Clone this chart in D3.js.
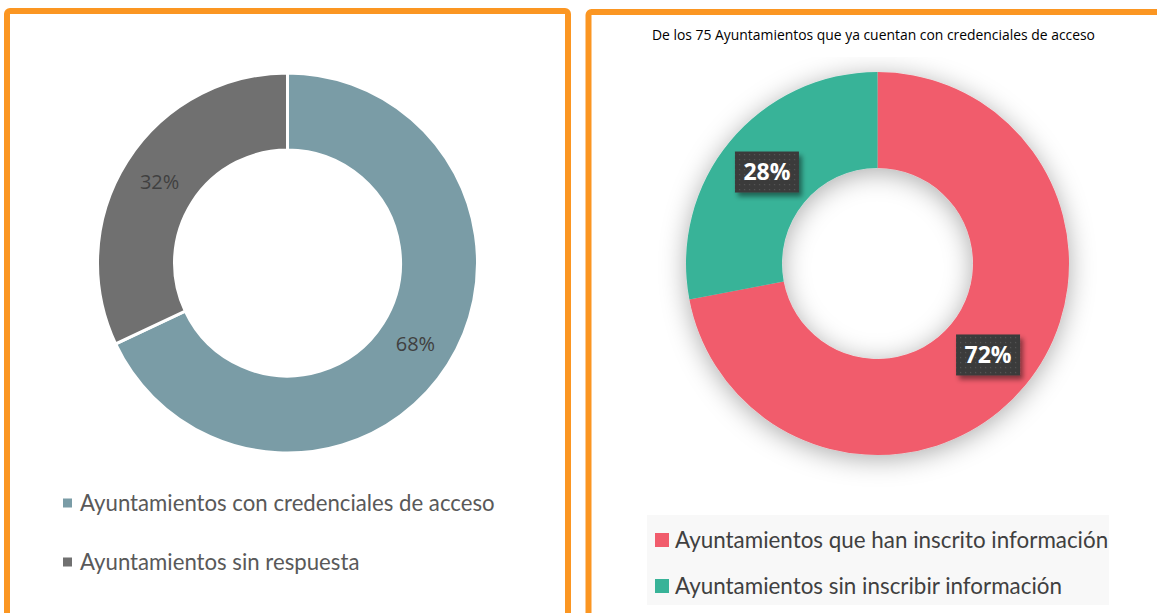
<!DOCTYPE html>
<html>
<head>
<meta charset="utf-8">
<script src="https://cdn.jsdelivr.net/npm/d3@7"></script>
<style>
  body { margin: 0; background: #fff; }
  svg { display: block; }
</style>
</head>
<body>
<div id="chart"></div>
<script>
        var width = 1157;
        var height = 613;

        // left chart data
        var leftLabels = ["Ayuntamientos con credenciales de acceso", "Ayuntamientos sin respuesta"];
        var leftValues = [68, 32];
        var leftColors = ["#7A9CA6", "#707070"];

        // right chart data
        var rightTitle = "De los 75 Ayuntamientos que ya cuentan con credenciales de acceso";
        var rightLabels = ["Ayuntamientos que han inscrito información", "Ayuntamientos sin inscribir información"];
        var rightValues = [72, 28];
        var rightColors = ["#F15C6C", "#38B398"];

        var svg = d3.select("#chart")
                    .append("svg")
                    .attr("width", width)
                    .attr("height", height);

        var defs = svg.append("defs");

        // soft shadow behind the right donut (region in the donut group's own coords)
        var shadow = defs.append("filter")
            .attr("id", "ringShadow")
            .attr("filterUnits", "userSpaceOnUse")
            .attr("x", -250).attr("y", -206.5)
            .attr("width", 500).attr("height", 460);
        shadow.append("feDropShadow")
            .attr("dx", 0).attr("dy", 4)
            .attr("stdDeviation", 13)
            .attr("flood-color", "#000")
            .attr("flood-opacity", 0.33);

        var boxShadow = defs.append("filter")
            .attr("id", "boxShadow")
            .attr("x", "-30%").attr("y", "-30%")
            .attr("width", "170%").attr("height", "180%");
        boxShadow.append("feDropShadow")
            .attr("dx", 3).attr("dy", 4)
            .attr("stdDeviation", 2.5)
            .attr("flood-color", "#000")
            .attr("flood-opacity", 0.45);

        // dotted texture for the label boxes
        var dots = defs.append("pattern")
            .attr("id", "dots")
            .attr("patternUnits", "userSpaceOnUse")
            .attr("width", 5).attr("height", 5);
        dots.append("rect").attr("width", 5).attr("height", 5).attr("fill", "#3b3b3b");
        dots.append("rect").attr("x", 2).attr("y", 2).attr("width", 1.2).attr("height", 1.2).attr("fill", "#555");

        // orange panel frames
        svg.append("rect")
            .attr("x", 7).attr("y", 11)
            .attr("width", 561).attr("height", 640)
            .attr("rx", 3)
            .attr("fill", "#fff")
            .attr("stroke", "#FB9622")
            .attr("stroke-width", 6);

        svg.append("rect")
            .attr("x", 588.5).attr("y", 12)
            .attr("width", 600).attr("height", 640)
            .attr("rx", 3)
            .attr("fill", "#fff")
            .attr("stroke", "#FB9622")
            .attr("stroke-width", 6);

        var pie = d3.pie().sort(null).value(function(d){ return d; });

        // ---------- left donut ----------
        var leftArc = d3.arc().innerRadius(113).outerRadius(190);

        var left_g = svg.append("g").attr("transform", "translate(287.5,263)");

        left_g.selectAll("path")
            .data(pie(leftValues))
            .enter()
            .append("path")
            .attr("d", leftArc)
            .attr("fill", function(d, i){ return leftColors[i]; })
            .attr("stroke", "#fff")
            .attr("stroke-width", 3);

        left_g.selectAll("text")
            .data(pie(leftValues))
            .enter()
            .append("text")
            .attr("transform", function(d){ return "translate(" + leftArc.centroid(d) + ")"; })
            .attr("text-anchor", "middle")
            .attr("dy", "0.36em")
            .style("font-family", "'Open Sans', sans-serif")
            .style("font-size", "20px")
            .style("fill", "#404040")
            .text(function(d){ return d.data + "%"; });

        var leftLegend = svg.append("g").attr("transform", "translate(63,0)");
        var leftRows = [503, 562];
        leftLabels.forEach(function(lab, i){
            leftLegend.append("rect")
                .attr("x", 0).attr("y", leftRows[i] - 4.5)
                .attr("width", 9).attr("height", 9)
                .attr("fill", leftColors[i]);
            leftLegend.append("text")
                .attr("x", 17).attr("y", leftRows[i])
                .attr("dy", "0.35em")
                .style("font-family", "Lato, sans-serif")
                .style("font-size", "22.2px")
                .style("fill", "#595959")
                .text(lab);
        });

        // ---------- right donut ----------
        svg.append("text")
            .attr("x", 873.5).attr("y", 40)
            .attr("text-anchor", "middle")
            .style("font-family", "'Open Sans', sans-serif")
            .style("font-size", "13.9px")
            .style("fill", "#000")
            .text(rightTitle);

        var rightArc = d3.arc().innerRadius(95.5).outerRadius(191.5);

        var right_g = svg.append("g").attr("transform", "translate(877.5,263.5)");

        right_g.append("g")
            .attr("filter", "url(#ringShadow)")
            .selectAll("path")
            .data(pie(rightValues))
            .enter()
            .append("path")
            .attr("d", rightArc)
            .attr("fill", function(d, i){ return rightColors[i]; });

        var labels = right_g.selectAll(".lbl")
            .data(pie(rightValues))
            .enter()
            .append("g")
            .attr("class", "lbl")
            .attr("transform", function(d){ return "translate(" + rightArc.centroid(d) + ")"; });

        labels.append("rect")
            .attr("x", -32).attr("y", -20.5)
            .attr("width", 64).attr("height", 41)
            .attr("fill", "url(#dots)")
            .attr("filter", "url(#boxShadow)");

        labels.append("text")
            .attr("text-anchor", "middle")
            .attr("dy", "0.36em")
            .style("font-family", "'Open Sans', sans-serif")
            .style("font-weight", "bold")
            .style("font-size", "23px")
            .style("fill", "#fff")
            .text(function(d){ return d.data + "%"; });

        // legend with light background
        var rightLegend = svg.append("g");
        rightLegend.append("rect")
            .attr("x", 647).attr("y", 515)
            .attr("width", 462).attr("height", 90)
            .attr("fill", "#F8F8F8");
        var rightRows = [540, 586];
        rightLabels.forEach(function(lab, i){
            rightLegend.append("rect")
                .attr("x", 655).attr("y", rightRows[i] - 7)
                .attr("width", 14).attr("height", 14)
                .attr("fill", rightColors[i]);
            rightLegend.append("text")
                .attr("x", 675).attr("y", rightRows[i])
                .attr("dy", "0.35em")
                .style("font-family", "Lato, sans-serif")
                .style("font-size", "22.4px")
                .style("fill", "#404040")
                .text(lab);
        });
</script>
</body>
</html>
